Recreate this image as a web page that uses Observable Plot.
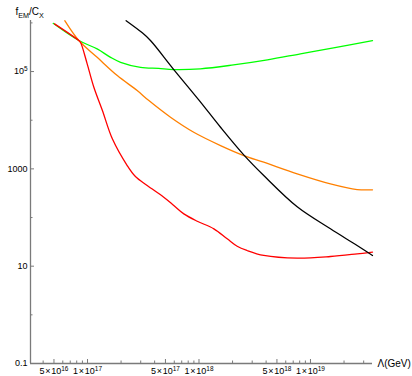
<!DOCTYPE html>
<html><head><meta charset="utf-8">
<script src="https://cdn.jsdelivr.net/npm/d3@7"></script>
<script src="https://cdn.jsdelivr.net/npm/@observablehq/plot@0.6"></script>
<style>body{margin:0;background:#fff}</style>
</head><body><div id="chart"></div>
<script>
// ---- data ----
const greenLambda = [4.92e16, 8.36e16, 1.22e17, 1.61e17, 1.98e17, 2.99e17, 4.34e17, 5.90e17, 1.03e18, 2.04e18, 4.11e18, 8.13e18, 1.61e19, 3.60e19];
const greenF      = [9.8e5, 4.34e5, 2.92e5, 1.96e5, 1.55e5, 1.22e5, 1.16e5, 1.10e5, 1.14e5, 1.37e5, 1.74e5, 2.31e5, 3.06e5, 4.34e5];

const orangeLambda = [6.25e16, 8.36e16, 1.22e17, 1.85e17, 2.79e17, 3.55e17, 5.55e17, 8.97e17, 1.56e18, 2.52e18, 3.81e18, 7.60e18, 1.51e19, 2.62e19, 3.60e19];
const orangeF      = [1.11e6, 4.34e5, 1.96e5, 8.26e4, 4.06e4, 2.53e4, 1.15e4, 5.65e3, 3.01e3, 1.88e3, 1.37e3, 791, 492, 376, 371];

const redLambda = [5.06e16, 8.36e16, 8.65e16, 9.93e16, 1.14e17, 1.36e17, 1.67e17, 2.27e17, 2.69e17, 3.43e17, 4.83e17, 5.94e17, 7.31e17, 9.64e17, 1.36e18, 1.79e18, 2.20e18, 2.70e18, 3.81e18, 7.60e18, 1.51e19, 2.62e19, 3.60e19];
const redF      = [9.55e5, 4.34e5, 4.0e5, 1.44e5, 4.75e4, 1.58e4, 4.14e3, 1.17e3, 695, 454, 261, 177, 119, 84, 58.6, 36.5, 25.7, 21.0, 16.6, 14.6, 15.8, 17.9, 19.4];

const blackLambda = [2.22e17, 3.10e17, 3.67e17, 5.94e17, 9.95e17, 1.56e18, 2.52e18, 3.81e18, 7.60e18, 1.51e19, 2.62e19, 3.60e19];
const blackF      = [1.11e6, 6.24e5, 4.34e5, 1.10e5, 2.62e4, 7.16e3, 1.94e3, 729, 166, 58.6, 26.6, 16.6];

const seriesNames  = ["curve A", "curve B", "curve C", "curve D"];
const seriesColors = ["#00ff00", "#ff8000", "#ff0000", "#000000"];

const xDomain = [3.08e16, 3.6e19];
const yDomain = [0.1, 1.12e6];

const xTicksMajor = [5e16, 1e17, 5e17, 1e18, 5e18, 1e19];
const xTickLabels = ["5\u200A×\u200A10^{16}", "1\u200A×\u200A10^{17}", "5\u200A×\u200A10^{17}", "1\u200A×\u200A10^{18}", "5\u200A×\u200A10^{18}", "1\u200A×\u200A10^{19}"];
const xTicksMinor = [4e16, 6e16, 7e16, 8e16, 9e16, 2e17, 3e17, 4e17, 6e17, 7e17, 8e17, 9e17, 2e18, 3e18, 4e18, 6e18, 7e18, 8e18, 9e18, 2e19, 3e19];

const yTicksMajor = [0.1, 10, 1000, 1e5];
const yTickLabels = ["0.1", "10", "1000", "10^{5}"];
const yTicksMinor = [1, 100, 1e4, 1e6];

const xAxisLabel = "Λ(GeV)";
const yAxisLabel = "f_{EM}/C_{X}";

// ---- build table ----
const allLambda = [greenLambda, orangeLambda, redLambda, blackLambda];
const allF = [greenF, orangeF, redF, blackF];
const rows = seriesNames.flatMap((name, s) => allLambda[s].map((l, i) => ({series: name, lambda: l, f: allF[s][i]})));

const axisColor = "#7a7a7a";

const chart = Plot.plot({
  width: 412,
  height: 376,
  marginLeft: 30,
  marginRight: 40,
  marginTop: 20,
  marginBottom: 13,
  style: {fontFamily: "'Liberation Sans', Arial, sans-serif", fontSize: "9px", color: "#000", background: "#fff", overflow: "visible"},
  x: {type: "log", domain: xDomain},
  y: {type: "log", domain: yDomain},
  color: {type: "ordinal", domain: seriesNames, range: seriesColors},
  marks: [
    Plot.ruleX([xDomain[0]], {stroke: axisColor, strokeWidth: 1.3}),
    Plot.ruleY([yDomain[0]], {stroke: axisColor, strokeWidth: 1.3}),
    // ticks pointing inward
    Plot.axisY(yTicksMajor, {tickSize: 4, dx: 4, stroke: axisColor, tickFormat: () => "", label: null}),
    Plot.axisY(yTicksMinor, {tickSize: 2.5, dx: 2.5, stroke: axisColor, tickFormat: () => "", label: null}),
    Plot.axisX(xTicksMajor, {tickSize: 4, dy: -4, stroke: axisColor, tickFormat: () => "", label: null}),
    Plot.axisX(xTicksMinor, {tickSize: 2.5, dy: -2.5, stroke: axisColor, tickFormat: () => "", label: null}),
    // tick labels
    Plot.text(yTicksMajor, {y: d => d, text: (d, i) => yTickLabels[i], frameAnchor: "left", textAnchor: "end", lineAnchor: "middle", dx: -3}),
    Plot.text(xTicksMajor, {x: d => d, text: (d, i) => xTickLabels[i], frameAnchor: "bottom", textAnchor: "middle", lineAnchor: "top", dy: 4}),
    Plot.line(rows, {x: "lambda", y: "f", z: "series", stroke: "series", strokeWidth: 1.3, curve: "catmull-rom"}),
    Plot.text([xAxisLabel], {text: d => d, frameAnchor: "bottom-right", textAnchor: "start", lineAnchor: "middle", dx: 5, fontSize: 10}),
    Plot.text([yAxisLabel], {text: d => d, frameAnchor: "top-left", textAnchor: "start", lineAnchor: "middle", dx: -15, dy: -8.5, fontSize: 10})
  ]
});

// rich text: ^{..} superscripts, _{..} subscripts
function richify(el) {
  const s = el.textContent;
  if (!/[\^_]\{/.test(s)) return;
  const ns = "http://www.w3.org/2000/svg";
  while (el.firstChild) el.removeChild(el.firstChild);
  const re = /([\^_])\{([^}]*)\}/g;
  let last = 0, m, offset = 0;
  const add = (txt, dy, small) => {
    if (!txt) return;
    const t = document.createElementNS(ns, "tspan");
    t.textContent = txt;
    if (dy) t.setAttribute("dy", dy);
    if (small) t.setAttribute("font-size", "0.72em");
    el.appendChild(t);
  };
  while ((m = re.exec(s))) {
    add(s.slice(last, m.index), offset ? -offset : 0, false);
    offset = 0;
    const shift = m[1] === "^" ? -3 : 3;
    add(m[2], shift, true);
    offset = shift;
    last = re.lastIndex;
  }
  if (last < s.length) add(s.slice(last), offset ? -offset : 0, false);
}
chart.querySelectorAll("text").forEach(richify);

document.getElementById("chart").appendChild(chart);
</script>
</body></html>
